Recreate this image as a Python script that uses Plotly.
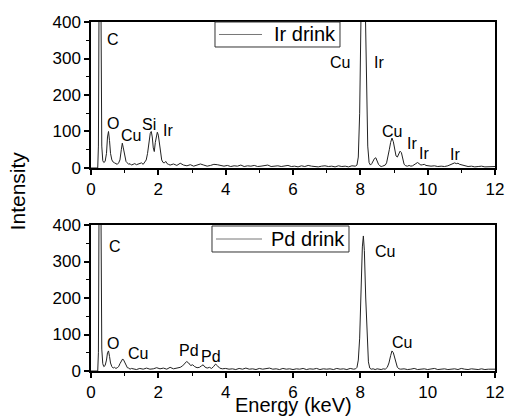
import plotly.graph_objects as go

# ---------------- data ----------------
ir_energy = [
    0.00, 0.10, 0.20, 0.22, 0.24, 0.26, 0.28, 0.30, 0.32, 0.35,
    0.38, 0.42, 0.46, 0.49, 0.52, 0.55, 0.58, 0.62, 0.66, 0.70,
    0.74, 0.78, 0.82, 0.86, 0.90, 0.93, 0.96, 1.00, 1.04, 1.08,
    1.12, 1.16, 1.20, 1.25, 1.30, 1.35, 1.40, 1.45, 1.50, 1.55,
    1.60, 1.64, 1.68, 1.72, 1.76, 1.79, 1.82, 1.85, 1.88, 1.91,
    1.94, 1.97, 2.00, 2.03, 2.06, 2.10, 2.14, 2.18, 2.22, 2.26,
    2.30, 2.35, 2.45, 2.55, 2.65, 2.75, 2.85, 2.95, 3.05, 3.15,
    3.25, 3.35, 3.45, 3.55, 3.65, 3.75, 3.85, 3.95, 4.05, 4.15,
    4.25, 4.35, 4.45, 4.55, 4.65, 4.75, 4.85, 4.95, 5.05, 5.15,
    5.25, 5.35, 5.45, 5.55, 5.65, 5.75, 5.85, 5.95, 6.05, 6.15,
    6.25, 6.35, 6.45, 6.55, 6.65, 6.75, 6.85, 6.95, 7.05, 7.15,
    7.25, 7.35, 7.45, 7.55, 7.65, 7.75, 7.85, 7.90, 7.94, 7.98,
    8.02, 8.06, 8.10, 8.14, 8.18, 8.22, 8.26, 8.30, 8.34, 8.38,
    8.42, 8.46, 8.50, 8.54, 8.58, 8.62, 8.66, 8.70, 8.74, 8.78,
    8.82, 8.86, 8.90, 8.94, 8.98, 9.02, 9.06, 9.10, 9.14, 9.18,
    9.22, 9.26, 9.30, 9.35, 9.40, 9.45, 9.50, 9.55, 9.60, 9.65,
    9.70, 9.75, 9.80, 9.85, 9.90, 9.95, 10.00, 10.10, 10.20, 10.30,
    10.40, 10.50, 10.60, 10.65, 10.70, 10.75, 10.80, 10.85, 10.90, 10.95,
    11.00, 11.05, 11.10, 11.20, 11.30, 11.40, 11.50, 11.60, 11.70, 11.80,
    11.90, 12.00,
]
ir_intensity = [
    0, 0, 0, 60, 400, 900, 700, 200, 60, 20,
    15, 18, 40, 85, 100, 75, 40, 22, 16, 14,
    12, 10, 14, 22, 50, 68, 55, 30, 18, 14,
    10, 12, 8, 10, 12, 9, 10, 12, 14, 10,
    15, 22, 40, 75, 95, 100, 85, 55, 45, 70,
    92, 98, 90, 65, 40, 22, 15, 14, 18, 12,
    10, 8, 11, 7, 13, 8, 6, 9, 5, 7,
    11, 8, 5, 7, 10, 9, 6, 5, 7, 4,
    6, 5, 8, 4, 6, 5, 7, 4, 5, 6,
    8, 4, 5, 6, 4, 5, 7, 4, 5, 3,
    6, 4, 7, 5, 4, 3, 5, 6, 4, 5,
    3, 6, 4, 5, 3, 6, 5, 8, 30, 150,
    420, 700, 720, 480, 200, 60, 15, 8, 12, 20,
    26, 28, 18, 10, 6, 4, 5, 6, 8, 14,
    28, 50, 70, 82, 72, 50, 33, 30, 38, 46,
    42, 22, 10, 6, 5, 7, 5, 6, 8, 12,
    15, 12, 8, 9, 10, 7, 6, 5, 6, 4,
    5, 4, 6, 8, 11, 13, 14, 12, 13, 10,
    9, 6, 5, 4, 5, 3, 4, 5, 3, 4,
    3, 4,
]

pd_energy = [
    0.00, 0.10, 0.20, 0.22, 0.24, 0.26, 0.28, 0.30, 0.32, 0.35,
    0.38, 0.42, 0.46, 0.49, 0.52, 0.55, 0.58, 0.62, 0.66, 0.70,
    0.74, 0.78, 0.82, 0.86, 0.90, 0.94, 0.97, 1.00, 1.04, 1.08,
    1.12, 1.16, 1.20, 1.25, 1.35, 1.45, 1.55, 1.65, 1.75, 1.85,
    1.95, 2.05, 2.15, 2.25, 2.35, 2.45, 2.55, 2.65, 2.72, 2.78,
    2.84, 2.90, 2.96, 3.02, 3.08, 3.15, 3.22, 3.28, 3.33, 3.38,
    3.45, 3.52, 3.58, 3.64, 3.70, 3.76, 3.82, 3.90, 4.00, 4.10,
    4.20, 4.30, 4.40, 4.50, 4.60, 4.70, 4.80, 4.90, 5.00, 5.10,
    5.20, 5.30, 5.40, 5.50, 5.60, 5.70, 5.80, 5.90, 6.00, 6.10,
    6.20, 6.30, 6.40, 6.50, 6.60, 6.70, 6.80, 6.90, 7.00, 7.10,
    7.20, 7.30, 7.40, 7.50, 7.60, 7.70, 7.80, 7.86, 7.90, 7.94,
    7.98, 8.02, 8.06, 8.09, 8.12, 8.16, 8.20, 8.24, 8.28, 8.32,
    8.38, 8.44, 8.50, 8.56, 8.62, 8.68, 8.74, 8.80, 8.85, 8.90,
    8.94, 8.98, 9.02, 9.06, 9.10, 9.15, 9.20, 9.30, 9.40, 9.50,
    9.60, 9.70, 9.80, 9.90, 10.00, 10.10, 10.20, 10.30, 10.40, 10.50,
    10.60, 10.70, 10.80, 10.90, 11.00, 11.10, 11.20, 11.30, 11.40, 11.50,
    11.60, 11.70, 11.80, 11.90, 12.00,
]
pd_intensity = [
    0, 0, 0, 50, 500, 900, 700, 250, 60, 20,
    12, 15, 30, 50, 55, 40, 22, 12, 8, 10,
    7, 9, 12, 20, 28, 33, 30, 24, 15, 9,
    8, 5, 7, 6, 4, 7, 5, 8, 5, 6,
    9, 6, 8, 5, 10, 6, 7, 10, 14, 20,
    26, 22, 15, 17, 12, 9, 10, 14, 17, 11,
    8, 10, 7, 12, 19, 14, 8, 6, 7, 5,
    6, 4, 7, 5, 8, 5, 6, 4, 7, 5,
    6, 8, 5, 6, 4, 7, 5, 6, 4, 6,
    5, 7, 4, 6, 5, 7, 4, 6, 5, 6,
    4, 7, 5, 6, 4, 7, 5, 6, 10, 30,
    90, 220, 340, 370, 330, 200, 80, 25, 8, 5,
    6, 4, 6, 5, 4, 6, 5, 10, 22, 42,
    55, 50, 38, 20, 10, 6, 5, 6, 4, 5,
    7, 4, 5, 6, 4, 5, 7, 4, 5, 6,
    4, 5, 6, 4, 7, 5, 4, 6, 5, 4,
    6, 4, 5, 6, 5,
]

# peak labels
ir_labels = ["C", "O", "Cu", "Si", "Ir", "Cu", "Ir", "Cu", "Ir", "Ir", "Ir"]
ir_label_x = [0.65, 0.65, 1.19, 1.72, 2.29, 7.39, 8.55, 8.94, 9.53, 9.89, 10.81]
ir_label_y = [353, 123, 90, 118, 104, 288, 288, 101, 66, 41, 38]

pd_labels = ["C", "O", "Cu", "Pd", "Pd", "Cu", "Cu"]
pd_label_x = [0.71, 0.65, 1.40, 2.91, 3.56, 8.73, 9.25]
pd_label_y = [340, 74, 49, 55, 41, 327, 78]

series_names = ["Ir drink", "Pd drink"]

x_ticks = [0, 2, 4, 6, 8, 10, 12]
y_ticks = [0, 100, 200, 300, 400]

# ---------------- figure ----------------
FONT = "Liberation Sans, Arial, sans-serif"

fig = go.Figure()
fig.add_trace(go.Scatter(x=ir_energy, y=ir_intensity, mode="lines", name=series_names[0],
                         line=dict(color="#222222", width=1), xaxis="x", yaxis="y",
                         showlegend=False))
fig.add_trace(go.Scatter(x=pd_energy, y=pd_intensity, mode="lines", name=series_names[1],
                         line=dict(color="#222222", width=1), xaxis="x2", yaxis="y2",
                         showlegend=False))

axis_common = dict(showline=True, linecolor="black", linewidth=1.5, mirror=True,
                   showgrid=False, zeroline=False, ticks="outside", ticklen=5,
                   tickwidth=1.5, tickcolor="black", automargin=False,
                   tickfont=dict(family=FONT, size=17, color="black"))

xax = dict(axis_common, range=[0, 12], tickvals=x_ticks,
           minor=dict(dtick=1, tick0=0, ticks="outside", ticklen=3, tickwidth=1,
                      tickcolor="black"))
yax = dict(axis_common, range=[0, 400], tickvals=y_ticks,
           minor=dict(dtick=50, tick0=0, ticks="outside", ticklen=3, tickwidth=1,
                      tickcolor="black"))

top_dom = [0.5817, 1.0]
bot_dom = [0.0, 0.4183]

fig.update_layout(
    width=506, height=418, autosize=False,
    margin=dict(l=91, r=11, t=22, b=47),
    paper_bgcolor="white", plot_bgcolor="white",
    font=dict(family=FONT, color="black"),
    xaxis=dict(xax, domain=[0, 1], anchor="y"),
    yaxis=dict(yax, domain=top_dom, anchor="x"),
    xaxis2=dict(xax, domain=[0, 1], anchor="y2"),
    yaxis2=dict(yax, domain=bot_dom, anchor="x2"),
    showlegend=False,
)

# hand-drawn legend boxes (paper coordinates)
legend_boxes = [
    # (x0, x1, y0, y1, line_x0, line_x1, line_y, text_x)
    (0.3069, 0.6163, 0.9284, 1.0, 0.3168, 0.4233, 0.9642, 0.4480),
    (0.2995, 0.6386, 0.3410, 0.4155, 0.3094, 0.4233, 0.3782, 0.4400),
]
shapes = []
annotations = []
for name, (x0, x1, y0, y1, lx0, lx1, ly, tx) in zip(series_names, legend_boxes):
    shapes.append(dict(type="rect", xref="paper", yref="paper", x0=x0, x1=x1, y0=y0, y1=y1,
                       line=dict(color="#333333", width=1), fillcolor="white", layer="above"))
    shapes.append(dict(type="line", xref="paper", yref="paper", x0=lx0, x1=lx1, y0=ly, y1=ly,
                       line=dict(color="#777777", width=1), layer="above"))
    annotations.append(dict(text=name, x=tx, y=ly, xref="paper", yref="paper", showarrow=False,
                            xanchor="left", yanchor="middle",
                            font=dict(family=FONT, size=20, color="black")))

for t, x, y in zip(ir_labels, ir_label_x, ir_label_y):
    annotations.append(dict(text=t, x=x, y=y, xref="x", yref="y", showarrow=False,
                            xanchor="center", yanchor="middle",
                            font=dict(family=FONT, size=16, color="black")))
for t, x, y in zip(pd_labels, pd_label_x, pd_label_y):
    annotations.append(dict(text=t, x=x, y=y, xref="x2", yref="y2", showarrow=False,
                            xanchor="center", yanchor="middle",
                            font=dict(family=FONT, size=16, color="black")))
annotations.append(dict(text="Intensity", x=-0.182, y=0.516, xref="paper", yref="paper",
                        showarrow=False, textangle=-90, xanchor="center", yanchor="middle",
                        font=dict(family=FONT, size=21, color="black")))
annotations.append(dict(text="Energy (keV)", x=0.502, y=-0.097, xref="paper", yref="paper",
                        showarrow=False, xanchor="center", yanchor="middle",
                        font=dict(family=FONT, size=20, color="black")))
fig.update_layout(shapes=shapes, annotations=annotations)

fig.write_html("out.html", config={"displayModeBar": False},
               post_script="document.body.style.margin='0px';document.body.style.padding='0px';")
